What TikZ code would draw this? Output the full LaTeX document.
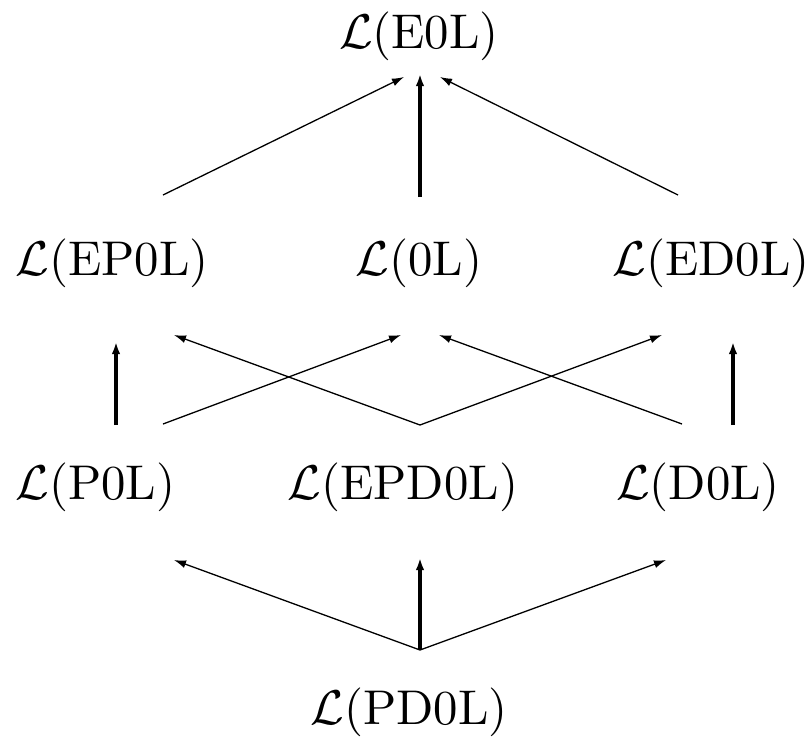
\documentclass[tikz,border=0pt]{standalone}
\usepackage{graphicx}
\usetikzlibrary{arrows.meta}
\newcommand{\bigtxt}[1]{\scalebox{4.88}{#1}}
\begin{document}
\begin{tikzpicture}[x=1pt,y=-1pt,
  lbl/.style={inner sep=0pt, anchor=base},
  diag/.style={line width=1.3pt, -{Latex[length=12pt,width=8pt]}},
  vert/.style={line width=3.2pt, -{Latex[length=12pt,width=8.5pt]}}]
\useasboundingbox (0,0) rectangle (812,737);
% labels
\node[lbl] (e0l)   at (419,48)  {\bigtxt{$\mathcal{L}$(E0L)}};
\node[lbl] (ep0l)  at (112,275) {\bigtxt{$\mathcal{L}$(EP0L)}};
\node[lbl] (zl)    at (419,275) {\bigtxt{$\mathcal{L}$(0L)}};
\node[lbl] (ed0l)  at (711,275) {\bigtxt{$\mathcal{L}$(ED0L)}};
\node[lbl] (p0l)   at (95.5,499)  {\bigtxt{$\mathcal{L}$(P0L)}};
\node[lbl] (epd0l) at (403,499) {\bigtxt{$\mathcal{L}$(EPD0L)}};
\node[lbl] (d0l)   at (698,499) {\bigtxt{$\mathcal{L}$(D0L)}};
\node[lbl] (pd0l)  at (409,724) {\bigtxt{$\mathcal{L}$(PD0L)}};
% arrow end points
\coordinate (t1a) at (163,195); \coordinate (t1b) at (404,77);
\coordinate (t2a) at (420,197); \coordinate (t2b) at (420,74);
\coordinate (t3a) at (678,195); \coordinate (t3b) at (440,77);
\coordinate (m1a) at (116,425); \coordinate (m1b) at (116,342);
\coordinate (m2a) at (163,424); \coordinate (m2b) at (401,335);
\coordinate (m3a) at (420,425); \coordinate (m3b) at (174,335);
\coordinate (m4a) at (420,425); \coordinate (m4b) at (662,335);
\coordinate (m5a) at (682,424); \coordinate (m5b) at (439,335);
\coordinate (m6a) at (733,425); \coordinate (m6b) at (733,342);
\coordinate (b1a) at (420,650); \coordinate (b1b) at (174,560);
\coordinate (b2a) at (420,650); \coordinate (b2b) at (420,558);
\coordinate (b3a) at (420,650); \coordinate (b3b) at (666,560);
% connectors
\draw[diag] (t1a) -- (t1b);
\draw[vert] (t2a) -- (t2b);
\draw[diag] (t3a) -- (t3b);
\draw[vert] (m1a) -- (m1b);
\draw[diag] (m2a) -- (m2b);
\draw[diag] (m3a) -- (m3b);
\draw[diag] (m4a) -- (m4b);
\draw[diag] (m5a) -- (m5b);
\draw[vert] (m6a) -- (m6b);
\draw[diag] (b1a) -- (b1b);
\draw[vert] (b2a) -- (b2b);
\draw[diag] (b3a) -- (b3b);
\end{tikzpicture}
\end{document}
